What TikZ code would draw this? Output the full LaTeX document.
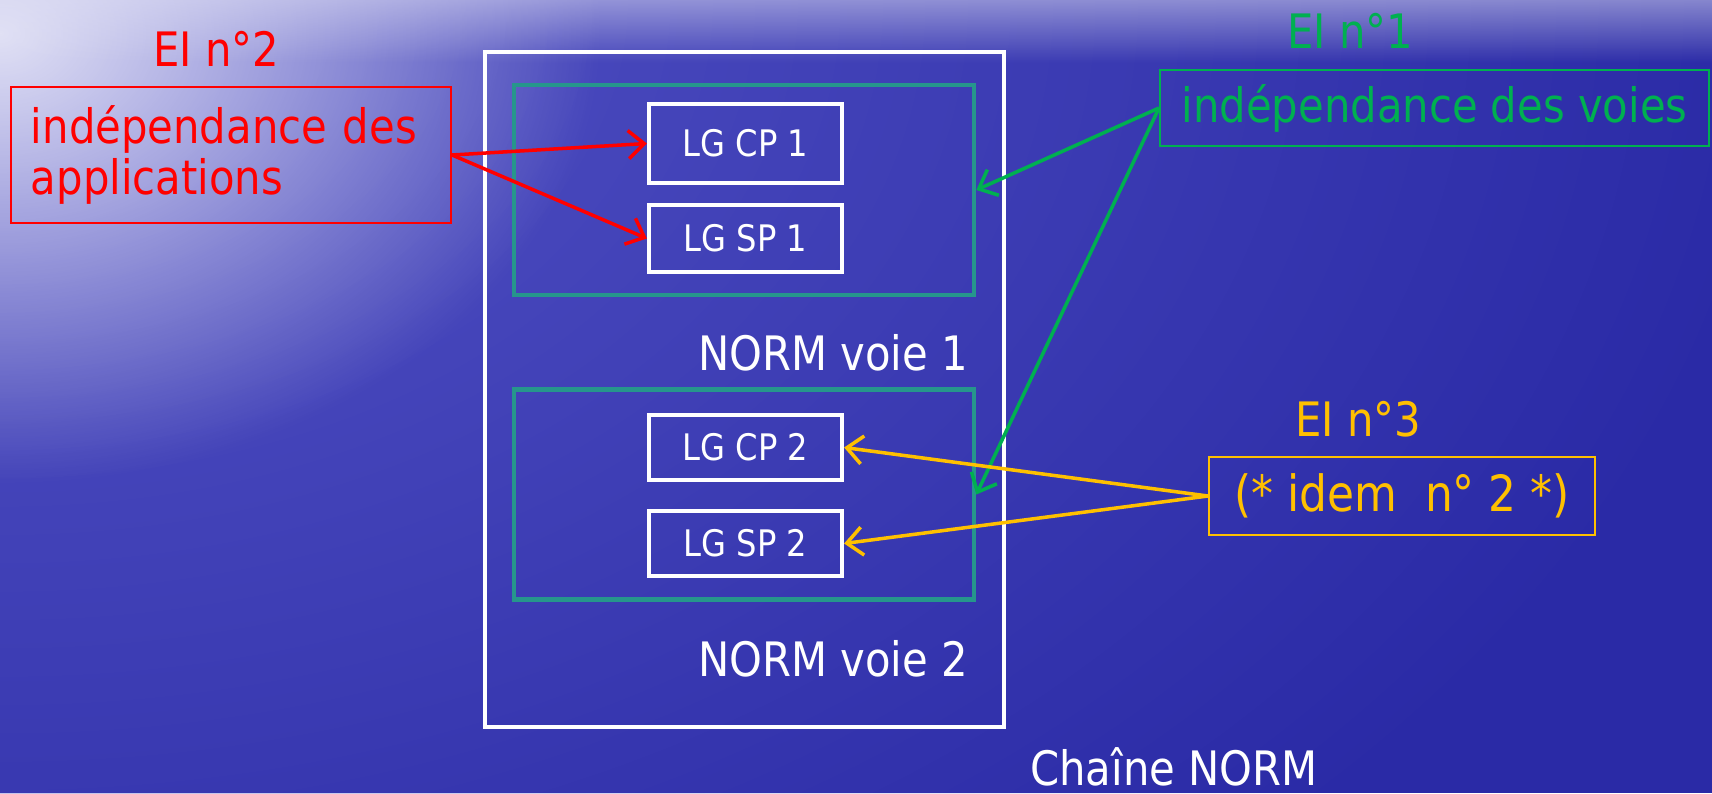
\documentclass[tikz,border=0pt]{standalone}
\usepackage{fontspec}
\setmainfont[FakeStretch=0.88]{DejaVu Sans}
\usetikzlibrary{arrows.meta,fadings}
\definecolor{bgblue}{RGB}{42,42,166}
\definecolor{bgmid}{RGB}{85,85,198}
\definecolor{bglight}{RGB}{225,225,245}
\definecolor{eired}{RGB}{255,0,0}
\definecolor{eigreen}{RGB}{0,176,80}
\definecolor{eiyellow}{RGB}{255,192,0}
\definecolor{voieteal}{RGB}{38,150,140}
\tikzfading[name=glow, inner color=transparent!0, outer color=transparent!100]
\tikzfading[name=topband, top color=transparent!50, bottom color=transparent!100]
\newcommand{\bigfont}{\fontsize{13.5}{14.5}\selectfont}
\newcommand{\lgfont}{\fontsize{10.4}{12}\selectfont}

\begin{document}
\begin{tikzpicture}[
  lgbox/.style={draw=white,line width=1.2pt,text=white,minimum width=1.93cm,font=\lgfont},
  voie/.style={draw=voieteal,line width=1.3pt,minimum width=4.6cm,minimum height=2.1cm},
  txtbox/.style={draw,line width=0.6pt,font=\bigfont,inner sep=0pt},
  lbl/.style={font=\bigfont},
  link/.style={-{Straight Barb[length=4.5pt,width=8pt]},line width=1pt}]
 \useasboundingbox (0,0) rectangle (17.12,7.93);
 \fill[bgblue] (0,0) rectangle (17.12,7.93);
 \begin{scope}
  \clip (0,0) rectangle (17.12,7.93);
  \fill[bgmid,path fading=glow] (0,7.9) ellipse (18 and 12);
  \fill[bglight,path fading=glow] (0,7.6) ellipse (6 and 4.5);
  \fill[bglight,path fading=topband] (0,7.3) rectangle (17.12,7.93);
 \end{scope}
 \node[draw=white,line width=1.3pt,minimum width=5.19cm,minimum height=6.75cm] (chaine) at (7.445,4.035) {};
 \node[voie] (voie1) at (7.44,6.03) {};
 \node[voie] (voie2) at (7.44,2.985) {};
 \foreach \nm/\txt/\y/\h in {cp1/LG CP 1/6.495/0.79,sp1/LG SP 1/5.545/0.67,cp2/LG CP 2/3.455/0.65,sp2/LG SP 2/2.495/0.65}
   \node[lgbox,minimum height=\h cm] (\nm) at (7.455,\y) {\txt};
 \node[lbl,text=white] (voie1lbl) at (8.33,4.40) {NORM voie 1};
 \node[lbl,text=white] (voie2lbl) at (8.33,1.34) {NORM voie 2};
 \node[lbl,text=white] (chainelbl) at (11.74,0.26) {Chaîne NORM};
 \node[lbl,text=eired] (ei2) at (2.16,7.44) {EI n°2};
 \node[txtbox,draw=eired,text=eired,minimum width=4.4cm,minimum height=1.36cm,text width=4.0cm,align=left] (app) at (2.31,6.38) {indépendance des\\applications};
 \node[lbl,text=eigreen] (ei1) at (13.50,7.62) {EI n°1};
 \node[txtbox,draw=eigreen,text=eigreen,minimum width=5.49cm,minimum height=0.76cm] (voies) at (14.345,6.85) {indépendance des voies};
 \node[lbl,text=eiyellow] (ei3) at (13.58,3.74) {EI n°3};
 \node[txtbox,draw=eiyellow,text=eiyellow,minimum width=3.86cm,minimum height=0.78cm,font=\fontsize{14.2}{15}\selectfont] (idem) at (14.02,2.97) {(* idem\ \ n° 2 *)};
 \draw[link,eired] (app.east) -- (cp1.west);
 \draw[link,eired] (app.east) -- (sp1.west);
 \draw[link,eigreen] (voies.west) -- (voie1.east);
 \draw[link,eigreen] (voies.west) -- (voie2.east);
 \draw[link,eiyellow] (idem.west) -- (cp2.east);
 \draw[link,eiyellow] (idem.west) -- (sp2.east);
\end{tikzpicture}
\end{document}
